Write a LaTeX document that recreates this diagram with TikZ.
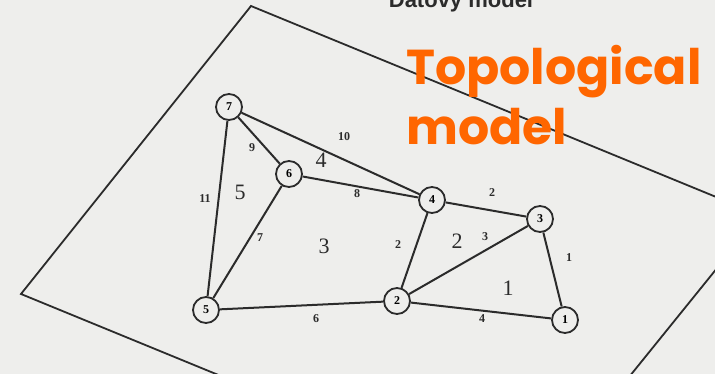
\documentclass[tikz,border=0pt]{standalone}
\usepackage{fontspec}
\setmainfont{Liberation Serif}
\newfontfamily\poppins{Poppins}
\newfontfamily\headsans{Liberation Sans}
\usepackage{xcolor}
\usetikzlibrary{positioning}
\definecolor{inkgray}{HTML}{2B2B2B}
\definecolor{paper}{HTML}{EEEEEC}
\definecolor{accent}{HTML}{FF6600}

\begin{document}
\begin{tikzpicture}[x=1pt, y=-1pt,
			vertex/.style={circle, draw=inkgray, line width=1.8pt, fill=paper, minimum size=26pt, inner sep=0pt, font=\bfseries\fontsize{12}{12}\selectfont},
			link/.style={draw=inkgray, line width=2pt},
			frameline/.style={draw=inkgray, line width=1.8pt, line join=miter},
			edgelabel/.style={font=\bfseries\fontsize{12}{12}\selectfont, text=inkgray, inner sep=0pt},
			facelabel/.style={font=\fontsize{22}{22}\selectfont, text=inkgray, inner sep=0pt},
			caption/.style={anchor=base west, inner sep=0pt, text=accent, font=\poppins\bfseries\fontsize{49}{49}\selectfont},
			]
			
			% ---- page ----
			\useasboundingbox (0,0) rectangle (715,374);
			\clip (0,0) rectangle (715,374);
			\fill[paper] (0,0) rectangle (715,374);
			\node[anchor=base, font=\headsans\bfseries\fontsize{22}{22}\selectfont, text=inkgray] (title) at (461,8) {Datový model};
			\draw[frameline] (251,6) -- (760,215) -- (528,502) -- (21,294) -- cycle;
			
			% ---- nodes ----
			\node[vertex] (n7) at (229,107) {7};
			\node[vertex] (n6) at (289,174) {6};
			\node[vertex] (n4) at (432,200) {4};
			\node[vertex] (n3) at (540,219) {3};
			\node[vertex] (n2) at (397,301) {2};
			\node[vertex] (n5) at (206,310) {5};
			\node[vertex] (n1) at (565,320) {1};
			
			% ---- arcs ----
			\draw[link] (n7) -- (n6);
			\draw[link] (n7) -- (n4);
			\draw[link] (n7) -- (n5);
			\draw[link] (n6) -- (n4);
			\draw[link] (n6) -- (n5);
			\draw[link] (n4) -- (n3);
			\draw[link] (n4) -- (n2);
			\draw[link] (n3) -- (n2);
			\draw[link] (n3) -- (n1);
			\draw[link] (n5) -- (n2);
			\draw[link] (n2) -- (n1);
			
			% arc numbers
			\node[edgelabel] (a10) at (344,137) {10};
			\node[edgelabel] (a9) at (252,148) {9};
			\node[edgelabel] (a8) at (357,194) {8};
			\node[edgelabel] (a11) at (205,199) {11};
			\node[edgelabel] (a7) at (260,238) {7};
			\node[edgelabel] (a2) at (398,245) {2};
			\node[edgelabel] (a3) at (485,237) {3};
			\node[edgelabel] (a1) at (569,258) {1};
			\node[edgelabel] (a6) at (316,319) {6};
			\node[edgelabel] (a4) at (482,319) {4};
			\node[edgelabel] (a2b) at (492,193) {2};
			
			% polygon numbers
			\node[facelabel] (f4) at (321,160) {4};
			\node[facelabel] (f5) at (240,192) {5};
			\node[facelabel] (f3) at (324,246) {3};
			\node[facelabel] (f2) at (457,241) {2};
			\node[facelabel] (f1) at (508,288) {1};
			
			% ---- caption ----
			\node[caption] (topo) at (406,85) {Topological};
			\node[caption] (topo2) at ([yshift=-60pt]topo.base west) {model};
			
		\end{tikzpicture}
\end{document}
